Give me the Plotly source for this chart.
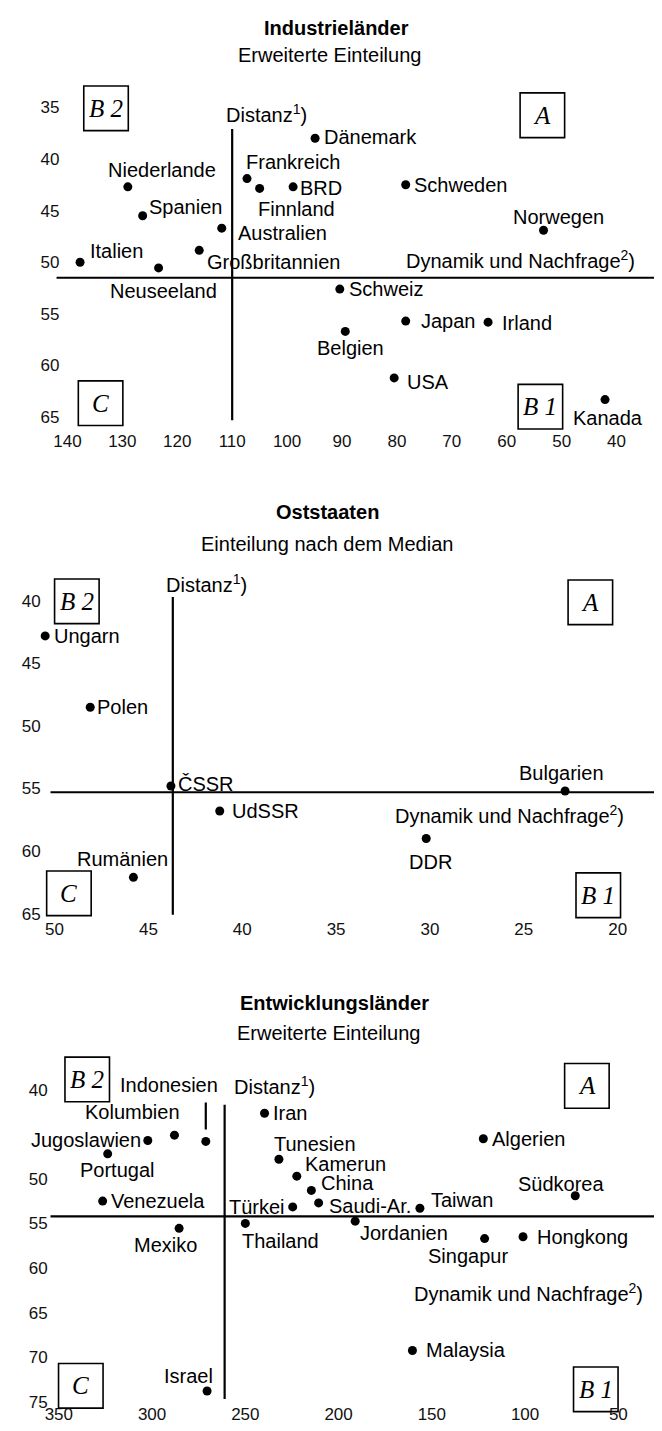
import plotly.graph_objects as go

W, H = 662, 1431

# ---------------- data ----------------
# Industrieländer
ind_countries = ["Dänemark", "Frankreich", "Finnland", "BRD", "Schweden", "Niederlande",
                 "Spanien", "Australien", "Norwegen", "Italien", "Großbritannien",
                 "Neuseeland", "Schweiz", "Japan", "Irland", "Belgien", "USA", "Kanada"]
ind_dynamik = [94.9, 107.3, 105.0, 98.9, 78.4, 129.0, 126.3, 111.9, 53.3, 137.7, 116.0,
               123.4, 90.4, 78.4, 63.4, 89.4, 80.5, 42.1]
ind_distanz = [38.0, 41.9, 42.85, 42.7, 42.5, 42.7, 45.5, 46.7, 46.9, 50.0, 48.85,
               50.55, 52.6, 55.7, 55.8, 56.7, 61.2, 63.3]
ind_split_dynamik = 110
ind_split_distanz = 51.5
ind_xticks = [140, 130, 120, 110, 100, 90, 80, 70, 60, 50, 40]
ind_yticks = [35, 40, 45, 50, 55, 60, 65]

# Oststaaten
ost_countries = ["Ungarn", "Polen", "ČSSR", "UdSSR", "Bulgarien", "DDR", "Rumänien"]
ost_dynamik = [50.5, 48.1, 43.8, 41.2, 22.8, 30.2, 45.8]
ost_distanz = [42.8, 48.5, 54.8, 56.8, 55.2, 59.0, 62.1]
ost_split_dynamik = 43.7
ost_split_distanz = 55.3
ost_xticks = [50, 45, 40, 35, 30, 25, 20]
ost_yticks = [40, 45, 50, 55, 60, 65]

# Entwicklungsländer
ent_countries = ["Indonesien", "Iran", "Jugoslawien", "Kolumbien", "Algerien", "Portugal",
                 "Tunesien", "Kamerun", "China", "Südkorea", "Venezuela", "Türkei",
                 "Saudi-Ar.", "Taiwan", "Thailand", "Mexiko", "Jordanien", "Singapur",
                 "Hongkong", "Malaysia", "Israel"]
ent_dynamik = [271.2, 239.7, 302.3, 288.0, 122.4, 323.8, 232.0, 222.4, 214.6, 73.1, 326.5,
               224.6, 210.7, 156.4, 250.0, 285.5, 191.1, 121.7, 101.1, 160.4, 270.5]
ent_distanz = [45.8, 42.65, 45.7, 45.1, 45.5, 47.2, 47.8, 49.7, 51.3, 51.9, 52.5, 53.15,
               52.7, 53.3, 55.0, 55.55, 54.75, 56.7, 56.5, 69.25, 73.8]
ent_split_dynamik = 261.1
ent_split_distanz = 54.2
ent_xticks = [350, 300, 250, 200, 150, 100, 50]
ent_yticks = [40, 50, 55, 60, 65, 70, 75]

# ---------------- styling / placement ----------------
SANS = "Liberation Sans"
SERIF = "Liberation Serif"
LBL = 20
TICK = 17

ind_lbl = {
    "Dänemark": ("left", 7, 1), "Frankreich": ("left", -3, 17), "Finnland": ("left", -4, -21),
    "BRD": ("left", 5, -1), "Schweden": ("left", 6, 0), "Niederlande": ("left", -22, 17),
    "Spanien": ("left", 4, 9), "Australien": ("left", 14, -5), "Norwegen": ("center", 15, 13),
    "Italien": ("left", 8, 11), "Großbritannien": ("left", 6, -12),
    "Neuseeland": ("center", 5, -23), "Schweiz": ("left", 7, 0), "Japan": ("left", 13, 0),
    "Irland": ("left", 12, -1), "Belgien": ("center", 5, -17), "USA": ("left", 11, -4),
    "Kanada": ("center", 3, -18),
}
ost_lbl = {
    "Ungarn": ("left", 7, 0), "Polen": ("left", 5, 0), "ČSSR": ("left", 5, 2),
    "UdSSR": ("left", 10, 0), "Bulgarien": ("center", -4, 18), "DDR": ("center", 4, -23),
    "Rumänien": ("center", -11, 18),
}
ent_lbl = {
    "Indonesien": ("right", 14, 56), "Iran": ("left", 6, 0), "Jugoslawien": ("right", -5, 0),
    "Kolumbien": ("right", 8, 23), "Algerien": ("left", 7, 0), "Portugal": ("center", 10, -16),
    "Tunesien": ("left", -7, 15), "Kamerun": ("left", 6, 12), "China": ("left", 8, 7),
    "Südkorea": ("center", -14, 12), "Venezuela": ("left", 6, 0), "Türkei": ("right", -6, 0),
    "Saudi-Ar.": ("left", 8, -3), "Taiwan": ("left", 9, 8), "Thailand": ("left", -5, -18),
    "Mexiko": ("right", 20, -17), "Jordanien": ("left", 3, -12), "Singapur": ("right", 25, -17),
    "Hongkong": ("left", 12, 0), "Malaysia": ("left", 12, 0), "Israel": ("right", 8, 15),
}


def px_x(p):
    return p / W


def px_y(p):
    return 1 - p / H


panels = [
    dict(ax="", names=ind_countries, x=ind_dynamik, y=ind_distanz, lbl=ind_lbl,
         sx=ind_split_dynamik, sy=ind_split_distanz, xt=ind_xticks, yt=ind_yticks,
         L=46, T=70, B=424, xr=[141.26, 30.27], yr=[66.15, 32.115],
         vline=(37.1, 65.3), hline_x0=-0.0065,
         title=("Industrieländer", 325, 20), sub=("Erweiterte Einteilung", 318, 47),
         dist=(211, 106.7), dyn=(629, 253),
         boxes=[("B 2", 92, 101), ("A", 533, 108), ("C", 86.5, 398), ("B 1", 531, 401.5)]),
    dict(ax="2", names=ost_countries, x=ost_dynamik, y=ost_distanz, lbl=ost_lbl,
         sx=ost_split_dynamik, sy=ost_split_distanz, xt=ost_xticks, yt=ost_yticks,
         L=27, T=560, B=915, xr=[50.685, 17.21], yr=[65.24, 37.06],
         vline=(39.7, 65.1), hline_x0=0.014,
         title=("Oststaaten", 316, 508), sub=("Einteilung nach dem Median", 315, 540),
         dist=(151, 580), dyn=(618, 811.7),
         boxes=[("B 2", 62.5, 597.5), ("A", 581.5, 598.5), ("C", 54.5, 891.5),
                ("B 1", 589.5, 893.5)]),
    dict(ax="3", names=ent_countries, x=ent_dynamik, y=ent_distanz, lbl=ent_lbl,
         sx=ent_split_dynamik, sy=ent_split_distanz, xt=ent_xticks, yt=ent_yticks,
         L=34, T=1045, B=1404, xr=[355.46, 22.3], yr=[75.05, 35.07],
         vline=(41.7, 74.7), hline_x0=0.003,
         title=("Entwicklungsländer", 323, 1002), sub=("Erweiterte Einteilung", 317, 1032),
         dist=(219, 1085), dyn=(637, 1293.3),
         boxes=[("B 2", 73, 1079), ("A", 578, 1085.5), ("C", 66.5, 1387.5),
                ("B 1", 587, 1391)]),
]

BOX = 45  # quadrant box side in pixels

fig = go.Figure()
annotations = []
shapes = []
layout_axes = {}

for p in panels:
    xa = "x" + p["ax"]
    ya = "y" + p["ax"]
    fig.add_trace(go.Scatter(
        x=p["x"], y=p["y"], mode="markers", xaxis=xa, yaxis=ya,
        marker=dict(size=9, color="black"), cliponaxis=False, showlegend=False,
        hovertext=p["names"], hoverinfo="text"))

    axis_common = dict(showgrid=False, zeroline=False, showline=False, ticks="",
                       tickfont=dict(family=SANS, size=TICK, color="#111"), fixedrange=True)
    layout_axes["xaxis" + p["ax"]] = dict(
        axis_common, domain=[px_x(p["L"]), 1.0], range=p["xr"], anchor=ya,
        tickmode="array", tickvals=p["xt"], ticktext=[str(v) for v in p["xt"]])
    layout_axes["yaxis" + p["ax"]] = dict(
        axis_common, domain=[px_y(p["B"]), px_y(p["T"])], range=p["yr"], anchor=xa,
        tickmode="array", tickvals=p["yt"], ticktext=[str(v) for v in p["yt"]])

    # cross lines at the splits
    shapes.append(dict(type="line", xref=xa + " domain", yref=ya, x0=p["hline_x0"], x1=1.0,
                       y0=p["sy"], y1=p["sy"], line=dict(color="black", width=2.2)))
    shapes.append(dict(type="line", xref=xa, yref=ya, x0=p["sx"], x1=p["sx"],
                       y0=p["vline"][0], y1=p["vline"][1], line=dict(color="black", width=2.2)))

    # country labels
    for name, xv, yv in zip(p["names"], p["x"], p["y"]):
        anc, dx, dy = p["lbl"][name]
        annotations.append(dict(
            x=xv, y=yv, xref=xa, yref=ya, text=name, showarrow=False,
            xanchor=anc, yanchor="middle", xshift=dx, yshift=dy,
            font=dict(family=SANS, size=LBL, color="black")))

    # axis captions
    annotations.append(dict(x=px_x(p["dist"][0]), y=px_y(p["dist"][1]), xref="paper",
                            yref="paper", text="Distanz<sup>1</sup>)", showarrow=False,
                            xanchor="left", yanchor="middle",
                            font=dict(family=SANS, size=LBL, color="black")))
    annotations.append(dict(x=px_x(p["dyn"][0]), y=px_y(p["dyn"][1]), xref="paper",
                            yref="paper", text="Dynamik und Nachfrage<sup>2</sup>)",
                            showarrow=False, xanchor="right", yanchor="middle",
                            font=dict(family=SANS, size=LBL, color="black")))
    # titles
    annotations.append(dict(x=px_x(p["title"][1]), y=px_y(p["title"][2]), xref="paper",
                            yref="paper", text=p["title"][0],
                            showarrow=False, xanchor="center", yanchor="middle",
                            font=dict(family=SANS, size=20, color="black", weight="bold")))
    annotations.append(dict(x=px_x(p["sub"][1]), y=px_y(p["sub"][2]), xref="paper",
                            yref="paper", text=p["sub"][0], showarrow=False,
                            xanchor="center", yanchor="middle",
                            font=dict(family=SANS, size=20, color="black")))
    # quadrant boxes
    for txt, cx, cy in p["boxes"]:
        shapes.append(dict(type="rect", xref="paper", yref="paper",
                           x0=px_x(cx - BOX / 2), x1=px_x(cx + BOX / 2),
                           y0=px_y(cy + BOX / 2), y1=px_y(cy - BOX / 2),
                           line=dict(color="black", width=1.6), fillcolor="rgba(0,0,0,0)"))
        annotations.append(dict(x=px_x(cx), y=px_y(cy), xref="paper", yref="paper",
                                text=txt, showarrow=False, xanchor="center",
                                yanchor="middle",
                                font=dict(family=SERIF, size=25, color="black",
                                          style="italic")))

# connector stroke between the label "Indonesien" and its point
i_ind = ent_countries.index("Indonesien")
shapes.append(dict(type="line", xref="x3", yref="y3", ysizemode="pixel",
                   yanchor=ent_distanz[i_ind], x0=ent_dynamik[i_ind], x1=ent_dynamik[i_ind],
                   y0=12, y1=39, line=dict(color="black", width=2.2)))

fig.update_layout(
    width=W, height=H, margin=dict(l=0, r=0, t=0, b=0),
    paper_bgcolor="white", plot_bgcolor="white",
    annotations=annotations, shapes=shapes, showlegend=False,
    **layout_axes)

fig.write_html("out.html")
